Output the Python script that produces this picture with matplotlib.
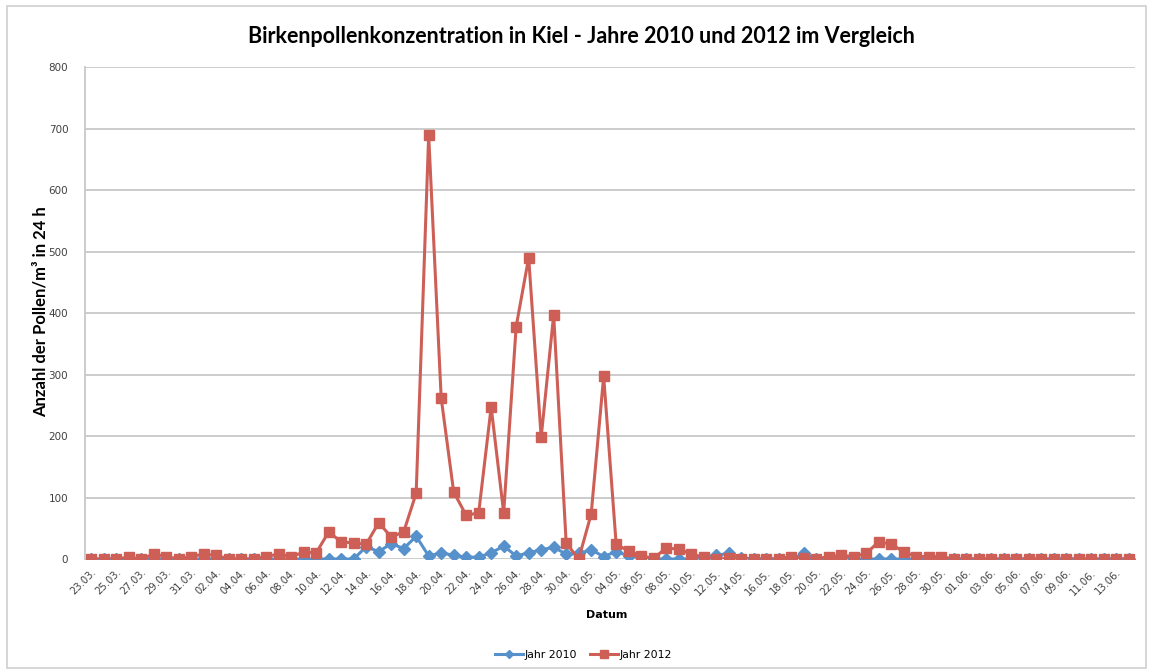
import matplotlib
matplotlib.use('Agg')
import matplotlib.pyplot as plt
import pandas as pd
from matplotlib.patches import Rectangle

# Kategorien: Tage vom 23.03. bis 14.06.
datum = pd.date_range('2012-03-23', periods=84).strftime('%d.%m.').tolist()

# Birkenpollen pro m³ in 24 h
jahr_2010 = [0, 0, 0, 0, 0, 0, 0, 0, 0, 0, 0, 0, 0, 0, 0, 0, 0, 0, 0, 0, 0, 0,
             20, 12, 25, 17, 37, 5, 10, 6, 3, 3, 10, 21, 5, 10, 15, 19, 8, 9,
             15, 4, 12, 5, 3, 0,
             0, 0, 0, 2, 6, 9, 2, 0, 0, 0, 0, 9, 0, 0, 2, 0, 0, 0, 0,
             0, 0, 0, 0,
             0, 0, 0, 0, 0, 0, 0, 0, 0, 0, 0, 0, 0, 0, 0]
jahr_2012 = [0, 0, 0, 3, 0, 8, 4, 0, 4, 8, 6, 0, 0, 0, 4, 8, 4, 11, 10,
             44, 28, 26, 24, 59, 36, 44, 107,
             689, 262, 109, 71, 75, 247, 75, 378, 490, 198, 397, 26, 0, 73,
             297, 24, 13, 5, 1,
             18, 16, 8, 3, 0, 1, 0, 0, 0, 0, 4, 1, 0, 4, 6, 4, 9, 28, 24,
             12, 4, 4, 4,
             0, 0, 0, 0, 0, 0, 0, 0, 0, 0, 0, 0, 0, 0, 0]

blau = '#5691CB'
rot = '#CD5F56'
grau = '#C8C8C8'

fig = plt.figure(figsize=(11.51, 6.71), dpi=100)
ax = fig.add_axes([0.0738, 0.1669, 0.9122, 0.7332])

x = list(range(len(datum)))
ax.plot(x, jahr_2010, color=blau, lw=2.2, marker='D', ms=6, label='Jahr 2010')
ax.plot(x, jahr_2012, color=rot, lw=2.2, marker='s', ms=7.5, label='Jahr 2012')

ax.set_xlim(-0.5, len(datum) - 0.5)
ax.set_ylim(0, 800)
ax.set_yticks(range(0, 801, 100))
ax.yaxis.grid(True, color=grau, lw=1.3)
ax.set_axisbelow(True)
for s in ['top', 'right', 'bottom']:
    ax.spines[s].set_visible(False)
ax.spines['left'].set_color(grau)
ax.spines['left'].set_linewidth(1.3)

ax.set_xticks(x[::2])
ax.set_xticklabels(datum[::2], rotation=45, ha='right', rotation_mode='anchor',
                   fontsize=7.2, color='#404040')
ax.tick_params(axis='x', length=0, pad=6)
ax.tick_params(axis='y', length=0, pad=12, labelsize=7.5, labelcolor='#404040')

fig.text(0.505, 0.946, 'Birkenpollenkonzentration in Kiel - Jahre 2010 und 2012 im Vergleich',
         ha='center', va='center', fontsize=15.5, fontweight='bold', family='Lato')
fig.text(0.035, 0.535, 'Anzahl der Pollen/m³ in 24 h', rotation=90, ha='center', va='center',
         fontsize=12, fontweight='bold', family='Lato')
fig.text(0.527, 0.083, 'Datum', ha='center', va='center', fontsize=8, fontweight='bold')

fig.legend(loc='center', bbox_to_anchor=(0.507, 0.024), ncol=2, frameon=False,
           fontsize=7.8, handlelength=2.6, columnspacing=1.2, handletextpad=0.15,
           markerscale=0.75)

fig.patches.append(Rectangle((0.006, 0.004), 0.99, 0.987, transform=fig.transFigure,
                             fill=False, edgecolor='#D0D0D0', lw=1.2))

fig.savefig('out.png', dpi=100)
